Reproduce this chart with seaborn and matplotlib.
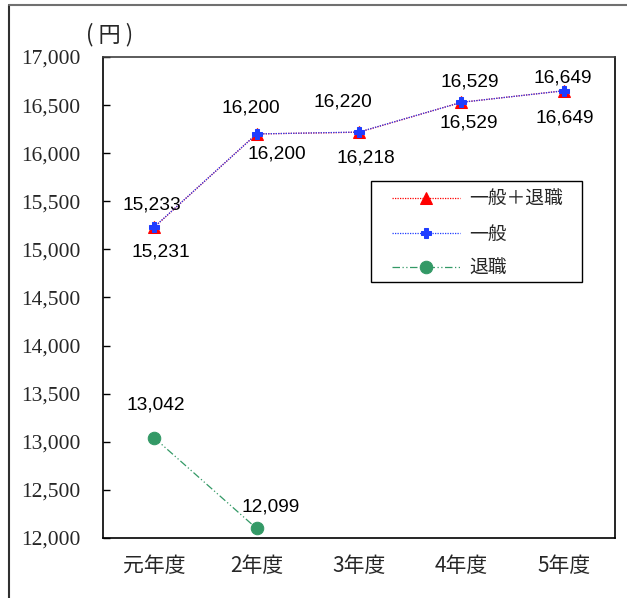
import matplotlib
matplotlib.use("Agg")
import matplotlib.pyplot as plt
from matplotlib.lines import Line2D
from matplotlib.patches import Rectangle
import seaborn as sns
import pandas as pd
import numpy as np

# ---- data ----
categories = ["元年度", "2年度", "3年度", "4年度", "5年度"]
total_vals = [15231, 16200, 16218, 16529, 16649]      # 一般＋退職
general_vals = [15233, 16200, 16220, 16529, 16649]    # 一般
retired_vals = [13042, 12099, np.nan, np.nan, np.nan]  # 退職
series_names = ["一般＋退職", "一般", "退職"]
y_ticks = list(range(12000, 17001, 500))

# label offsets (pixels) – styling only
total_off = [(7, -25), (20, -20), (7, -26), (7, -21), (1, -27)]
general_off = [(-2, 22), (-6, 26), (-16, 30), (8, 20), (-1, 13)]
retired_off = [(2, 33), (14, 21)]

sns.set_style("white")
plt.rcParams["font.family"] = ["Noto Sans CJK JP", "DejaVu Sans"]

fig = plt.figure(figsize=(6.27, 5.98), dpi=100)
ax = fig.add_axes([103 / 627, 1 - 538 / 598, 512 / 627, 481 / 598])

df_total = pd.DataFrame({"x": categories, "y": total_vals})
df_gen = pd.DataFrame({"x": categories, "y": general_vals})
df_ret = pd.DataFrame({"x": categories, "y": retired_vals}).dropna()

sns.lineplot(data=df_ret, x="x", y="y", ax=ax, sort=False, color="#339966",
             marker="o", markersize=9, markeredgecolor="#339966",
             linewidth=0.9, linestyle=(0, (6, 2, 1, 2, 1, 2)), label=series_names[2])
sns.lineplot(data=df_total, x="x", y="y", ax=ax, sort=False, color="#FF0000",
             marker="^", markersize=9, markeredgecolor="#FF0000",
             linewidth=0.9, linestyle=(0, (1, 1)), label=series_names[0])
sns.lineplot(data=df_gen, x="x", y="y", ax=ax, sort=False, color="#1f3dff",
             marker="P", markersize=7.5, markeredgecolor="#1f3dff",
             linewidth=0.9, linestyle=(0, (1, 1)), label=series_names[1])

# data labels
lab_font = dict(family="Liberation Sans", size=13.8, color="black")
for i, v in enumerate(total_vals):
    ax.annotate(f"{v:,}", (i, v), xytext=total_off[i], textcoords="offset pixels",
                ha="center", va="center", **lab_font)
for i, v in enumerate(general_vals):
    ax.annotate(f"{v:,}", (i, v), xytext=general_off[i], textcoords="offset pixels",
                ha="center", va="center", **lab_font)
for i, v in enumerate(retired_vals):
    if not np.isnan(v):
        ax.annotate(f"{v:,.0f}", (i, v), xytext=retired_off[i], textcoords="offset pixels",
                    ha="center", va="center", **lab_font)

# axes
ax.set_xlim(-0.5, len(categories) - 0.5)
ax.set_ylim(12000, 17000)
ax.set_yticks(y_ticks)
ax.set_yticklabels([f"{t:,}" for t in y_ticks], family="Liberation Serif", fontsize=15.5)
ax.set_xticks(range(len(categories)))
ax.set_xticklabels(categories, fontsize=15)
ax.set_xticks(np.arange(0.5, len(categories) - 0.5, 1), minor=True)
ax.tick_params(axis="x", which="major", length=0, pad=12)
ax.tick_params(axis="x", which="minor", direction="in", length=5, width=1, color="black")
ax.tick_params(axis="y", which="major", direction="in", length=5, width=1, color="black", pad=16, left=True)
ax.set_xlabel("")
ax.set_ylabel("")
for s in ax.spines.values():
    s.set_visible(True)
    s.set_color("black")
    s.set_linewidth(1.2)
ax.spines["top"].set_color("#404040")

# unit label
fig.text(110 / 627, 1 - 35 / 598, "( 円 )", ha="center", va="center", fontsize=16,
         family=["Noto Sans CJK JP", "DejaVu Sans"])

# legend
h, l = ax.get_legend_handles_labels()
order = [l.index(n) for n in series_names]
leg = ax.legend([h[i] for i in order], [l[i] for i in order], loc="upper left",
                bbox_to_anchor=((392 - 103) / 512, (538 - 189) / 481),
                frameon=False, borderpad=0, borderaxespad=0, handlelength=3.6,
                handletextpad=0.5, labelspacing=0.72, fontsize=13.5)
ax.add_patch(Rectangle(((371 - 103) / 512, (538 - 282) / 481), 211 / 512, 101 / 481,
                       transform=ax.transAxes, fill=False, edgecolor="black",
                       linewidth=1.0, zorder=5))

# outer frame (left & top lines)
fig.add_artist(Line2D([9 / 627, 9 / 627], [0, 1 - 5 / 598], color="#303030", linewidth=1.5))
fig.add_artist(Line2D([9 / 627, 1], [1 - 5 / 598, 1 - 5 / 598], color="#707070", linewidth=1.5))

fig.savefig("out.png", dpi=100)
